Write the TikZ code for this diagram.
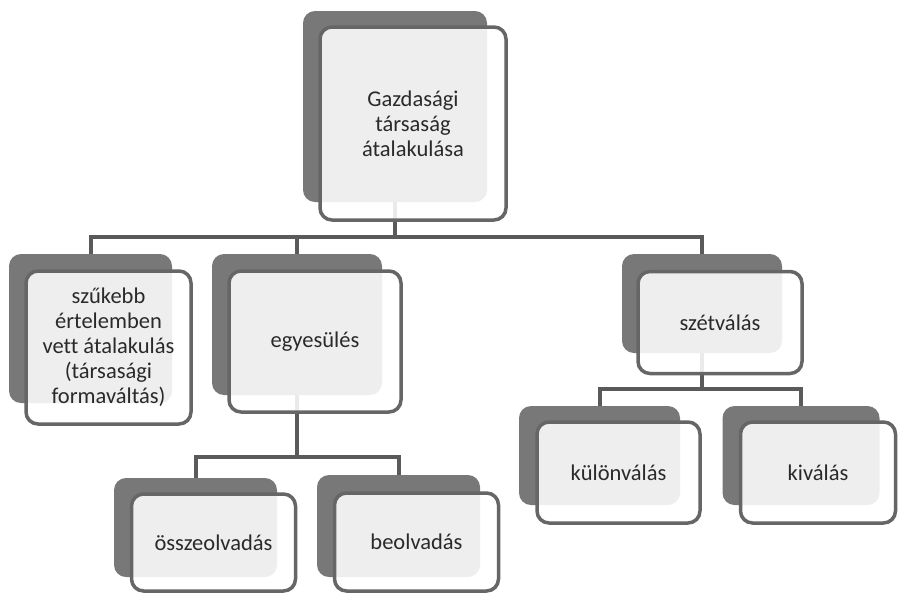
\documentclass[tikz,border=0pt]{standalone}
\usepackage{fontspec}
\setmainfont{Carlito}[Ligatures=NoCommon]
\usetikzlibrary{calc}
\definecolor{shadowgray}{HTML}{787878}
\definecolor{framegray}{HTML}{666666}
\definecolor{linkgray}{HTML}{5A5A5A}
\definecolor{labelgray}{HTML}{2A2A2A}
\tikzset{
  backbox/.style={rounded corners=12pt, fill=shadowgray, draw=none, inner sep=0pt},
  frontbox/.style={rounded corners=12pt, draw=framegray, line width=3.5pt,
    fill=white, fill opacity=0.88, text opacity=1, text=labelgray,
    align=center, inner sep=0pt, font=\fontsize{22.5}{25}\selectfont},
  link/.style={draw=linkgray, line width=4pt}
}
\begin{document}
\begin{tikzpicture}[x=1pt,y=-1pt]
\useasboundingbox (0,0) rectangle (899,595);

% shadow boxes
\node[backbox, minimum width=184pt, minimum height=191pt] (rootB) at (395,106.5) {};
\node[backbox, minimum width=163pt, minimum height=149pt] (narrowB) at (90.5,328.5) {};
\node[backbox, minimum width=170pt, minimum height=141pt] (mergeB) at (297,324.5) {};
\node[backbox, minimum width=160pt, minimum height=99pt] (splitB) at (702,303.5) {};
\node[backbox, minimum width=161pt, minimum height=99pt] (divB) at (599.5,455.5) {};
\node[backbox, minimum width=157pt, minimum height=99pt] (spinB) at (801,455.5) {};
\node[backbox, minimum width=163pt, minimum height=99pt] (fuseB) at (195.5,527.5) {};
\node[backbox, minimum width=163pt, minimum height=102pt] (absorbB) at (398.5,526) {};

% connectors
\draw[link] (rootB.south) -- ++(0,35) -| (narrowB.north);
\draw[link] (rootB.south) -- ++(0,35) -| (mergeB.north);
\draw[link] (rootB.south) -- ++(0,35) -| (splitB.north);
\draw[link] (mergeB.south) -- ++(0,62) -| (fuseB.north);
\draw[link] (mergeB.south) -- ++(0,62) -| (absorbB.north);
\draw[link] (splitB.south) -- ++(0,36) -| (divB.north);
\draw[link] (splitB.south) -- ++(0,36) -| (spinB.north);

% front boxes with labels
\node[frontbox, minimum width=186pt, minimum height=193pt] (root) at ($(rootB)+(18,17)$)
  {Gazdasági\\társaság\\átalakulása};
\node[frontbox, minimum width=165pt, minimum height=153pt] (narrow) at ($(narrowB)+(18,19)$)
  {szűkebb\\értelemben\\vett átalakulás\\(társasági\\formaváltás)};
\node[frontbox, minimum width=172pt, minimum height=141pt] (merge) at ($(mergeB)+(18,17)$)
  {egyesülés};
\node[frontbox, minimum width=164pt, minimum height=102pt] (split) at ($(splitB)+(18,19)$)
  {szétválás};
\node[frontbox, minimum width=163pt, minimum height=101pt] (div) at ($(divB)+(19,17)$)
  {különválás};
\node[frontbox, minimum width=155pt, minimum height=101pt] (spin) at ($(spinB)+(17,17)$)
  {kiválás};
\node[frontbox, minimum width=164pt, minimum height=97pt] (fuse) at ($(fuseB)+(18,15)$)
  {összeolvadás};
\node[frontbox, minimum width=164pt, minimum height=98pt] (absorb) at ($(absorbB)+(18,16)$)
  {beolvadás};
\end{tikzpicture}
\end{document}
